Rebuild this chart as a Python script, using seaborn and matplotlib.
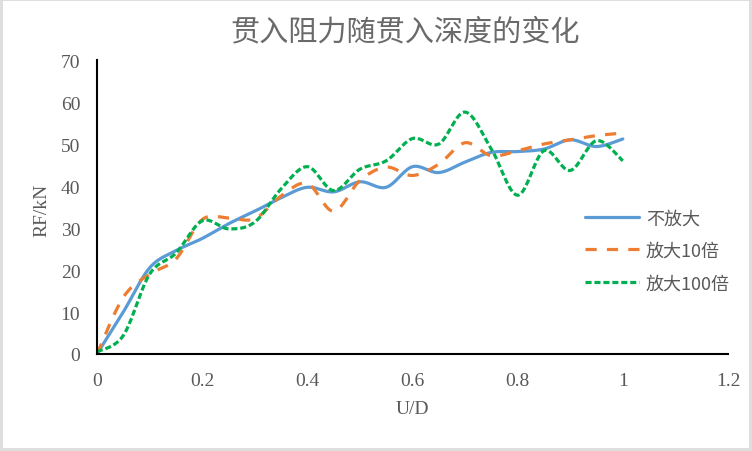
import numpy as np
import pandas as pd
import seaborn as sns
import matplotlib
matplotlib.use("Agg")
import matplotlib.pyplot as plt
from matplotlib.patches import Rectangle

# ---- data ----
ud = [0.00, 0.05, 0.10, 0.15, 0.20, 0.25, 0.30, 0.35, 0.40, 0.45, 0.50,
      0.55, 0.60, 0.65, 0.70, 0.75, 0.80, 0.85, 0.90, 0.95, 1.00]
rf_none = [0, 10, 20.5, 24.6, 27.5, 31, 34, 37.2, 39.7, 38.6, 41,
           39.7, 44.6, 43.2, 45.7, 48, 48.2, 48.8, 51, 49.4, 51.2]
rf_x10 = [0, 13.5, 19, 22.6, 32, 32.4, 32.2, 37.6, 40.6, 34, 41.3,
          44.5, 42.5, 45.2, 50.3, 47.2, 48.4, 50, 51, 52, 52.6]
rf_x100 = [0.5, 4.4, 19, 24, 31.7, 29.8, 31.4, 39.3, 44.6, 38.9, 44,
           46, 51.3, 50, 57.6, 48.8, 37.8, 48.4, 43.7, 50.8, 46]
series_names = ["不放大", "放大10倍", "放大100倍"]
title_text = "贯入阻力随贯入深度的变化"
x_ticks = [0, 0.2, 0.4, 0.6, 0.8, 1.0, 1.2]
x_ticklabels = ["0", "0.2", "0.4", "0.6", "0.8", "1", "1.2"]
y_ticks = [0, 10, 20, 30, 40, 50, 60, 70]


def smooth_path(x, y, n=20):
    """Excel-like smoothed line (uniform Catmull-Rom through the data points)."""
    P = np.column_stack([x, y]).astype(float)
    P = np.vstack([P[0], P, P[-1]])
    out = []
    t = np.linspace(0, 1, n, endpoint=False)[:, None]
    for i in range(1, len(P) - 2):
        p0, p1, p2, p3 = P[i - 1], P[i], P[i + 1], P[i + 2]
        seg = 0.5 * ((2 * p1) + (-p0 + p2) * t
                     + (2 * p0 - 5 * p1 + 4 * p2 - p3) * t ** 2
                     + (-p0 + 3 * p1 - 3 * p2 + p3) * t ** 3)
        out.append(seg)
    out.append(P[-2][None, :])
    out = np.vstack(out)
    return out[:, 0], out[:, 1]


sns.set_theme(style="white")
plt.rcParams['font.family'] = ['Liberation Serif', 'Noto Sans CJK SC', 'DejaVu Sans']

W, H = 752, 452
fig = plt.figure(figsize=(W / 100, H / 100), dpi=100)
fig.patch.set_facecolor("#dedede")
fig.add_artist(Rectangle((3 / W, 3 / H), (W - 6) / W, (H - 5) / H,
                         transform=fig.transFigure, facecolor="white",
                         edgecolor="none", zorder=0))

L, R, T, B = 97, 728, 61, 355
ax = fig.add_axes([L / W, (H - B) / H, (R - L) / W, (B - T) / H])
ax.set_facecolor("none")

colors = ["#5B9BD5", "#ED7D31", "#00B050"]
styles = ["-", (0, (3.5, 3.2)), (0, (1.9, 0.9))]
for vals, name, c, ls in zip([rf_none, rf_x10, rf_x100], series_names, colors, styles):
    xs, ys = smooth_path(ud, vals)
    df = pd.DataFrame({"U/D": xs, "RF": ys})
    sns.lineplot(data=df, x="U/D", y="RF", ax=ax, sort=False, estimator=None,
                 color=c, linewidth=2.3, linestyle=ls, label=name)

ax.set_xlim(0, 1.2)
ax.set_ylim(0, 70)
ax.set_xticks(x_ticks)
ax.set_xticklabels(x_ticklabels)
ax.set_yticks(y_ticks)
for s in ["top", "right"]:
    ax.spines[s].set_visible(False)
for s in ["left", "bottom"]:
    ax.spines[s].set_color("black")
    ax.spines[s].set_linewidth(1.5)
ax.tick_params(axis="both", direction="in", length=4, width=1.3, color="black",
               labelcolor="#595959", labelsize=14)
ax.tick_params(axis="x", pad=13)
ax.tick_params(axis="y", pad=12)
for lab in ax.get_xticklabels() + ax.get_yticklabels():
    lab.set_family("Liberation Serif")

ax.set_xlabel("U/D", fontsize=14, color="#595959", family="Liberation Serif")
ax.set_ylabel("RF/kN", fontsize=14, color="#595959", family="Liberation Serif")
ax.xaxis.set_label_coords((412 - L) / (R - L), -(410 - B) / (B - T))
ax.yaxis.set_label_coords(-(L - 42) / (R - L), (B - 210) / (B - T))
ax.xaxis.label.set_verticalalignment("center")
ax.yaxis.label.set_verticalalignment("center")

fig.text(405 / W, 1 - 32 / H, title_text, ha="center", va="center",
         fontsize=21, color="#6a6a6a",
         family=["Noto Sans CJK SC", "DejaVu Sans"])

leg = ax.legend(loc="upper left", bbox_to_anchor=(578 / W, 1 - 203 / H),
                bbox_transform=fig.transFigure, frameon=False,
                prop={"family": ["Noto Sans CJK SC", "DejaVu Sans"], "size": 13},
                handlelength=3.0, handletextpad=0.35, labelspacing=0.8,
                borderaxespad=0)
for t in leg.get_texts():
    t.set_color("#595959")

fig.savefig("out.png", dpi=100, facecolor=fig.get_facecolor())
